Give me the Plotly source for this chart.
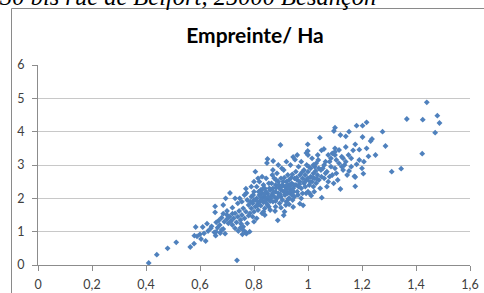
import plotly.graph_objects as go

# ---- data ----
x_ha = [
    0.41, 0.44, 0.48, 0.512, 0.564, 0.578, 0.579, 0.584, 0.589, 0.604, 0.621, 0.61, 0.626, 0.643, 0.653, 0.658,
    0.656, 0.656, 0.67, 0.673, 0.686, 0.686, 0.686, 0.693, 0.695, 0.711, 0.72, 0.73, 0.737, 0.742, 0.747, 0.752,
    0.757, 0.77, 0.772, 0.77, 0.772, 0.784,
    0.60, 0.615, 0.63, 0.64, 0.66, 0.665, 0.675, 0.68, 0.69, 0.70, 0.70, 0.705, 0.71, 0.715, 0.72, 0.725,
    0.73, 0.735, 0.74, 0.745, 0.75, 0.755, 0.76, 0.76, 0.765, 0.77, 0.775, 0.78, 0.78, 0.70, 0.72, 0.74,
    0.75, 0.76, 0.68, 0.66, 0.73, 0.775, 0.765, 0.755,
    0.785, 0.79, 0.79, 0.795, 0.8, 0.8, 0.8, 0.805, 0.805, 0.81, 0.81, 0.81, 0.815, 0.815, 0.82, 0.82,
    0.82, 0.825, 0.825, 0.83, 0.83, 0.83, 0.835, 0.835, 0.84, 0.84, 0.84, 0.845, 0.845, 0.85, 0.85, 0.85,
    0.848, 0.855, 0.855, 0.86, 0.86, 0.86, 0.79, 0.795, 0.80, 0.815, 0.825, 0.835, 0.845, 0.855, 0.787, 0.797,
    0.807, 0.817, 0.827, 0.837, 0.847, 0.857, 0.812, 0.832, 0.852, 0.80, 0.83, 0.84,
    0.865, 0.865, 0.87, 0.87, 0.871, 0.875, 0.875, 0.88, 0.88, 0.88, 0.885, 0.885, 0.888, 0.89, 0.89, 0.895,
    0.895, 0.898, 0.9, 0.9, 0.9, 0.905, 0.905, 0.91, 0.91, 0.91, 0.913, 0.915, 0.915, 0.92, 0.92, 0.92,
    0.925, 0.925, 0.93, 0.93, 0.93, 0.935, 0.935, 0.94, 0.94, 0.945, 0.945, 0.945, 0.95, 0.95, 0.952, 0.868,
    0.878, 0.883, 0.893, 0.903, 0.908, 0.918, 0.923, 0.928, 0.938, 0.943, 0.948, 0.862, 0.872, 0.882, 0.892, 0.897,
    0.902, 0.912, 0.917, 0.927, 0.932, 0.937, 0.942, 0.947, 0.87, 0.89, 0.92, 0.88, 0.9, 0.93,
    0.955, 0.955, 0.96, 0.96, 0.965, 0.965, 0.97, 0.97, 0.97, 0.975, 0.975, 0.98, 0.98, 0.982, 0.985, 0.985,
    0.99, 0.99, 0.994, 0.995, 0.995, 0.999, 0.999, 1.0, 1.0, 1.0, 1.005, 1.007, 1.01, 1.01, 1.012, 1.015,
    1.015, 1.02, 1.02, 1.025, 1.025, 1.03, 1.03, 1.036, 1.035, 1.04, 1.04, 1.044, 1.045, 1.05, 1.05, 1.051,
    0.958, 0.963, 0.968, 0.978, 0.988, 0.993, 1.003, 1.008, 1.018, 1.023, 1.028, 1.033, 1.038, 1.048, 0.96, 0.975,
    1.0, 1.02,
    1.055, 1.059, 1.06, 1.065, 1.07, 1.075, 1.075, 1.08, 1.085, 1.085, 1.09, 1.096, 1.1, 1.1, 1.1, 1.1,
    1.1, 1.105, 1.11, 1.115, 1.12, 1.12, 1.125, 1.13, 1.13, 1.135, 1.14, 1.14, 1.145, 1.152, 1.152, 1.15,
    1.06, 1.07, 1.08, 1.09, 1.095, 1.105, 1.115, 1.125, 1.14, 1.065,
    1.16, 1.167, 1.172, 1.175, 1.175, 1.175, 1.18, 1.18, 1.19, 1.202, 1.202, 1.205, 1.207, 1.217, 1.217, 1.224,
    1.232, 1.237, 1.25, 1.276, 1.287, 1.16, 1.19, 1.2,
    1.31, 1.345, 1.366, 1.425, 1.44, 1.479, 1.487, 1.471, 1.423,
]
y_empreinte = [
    0.06, 0.31, 0.50, 0.68, 0.54, 0.64, 0.88, 1.14, 0.86, 0.78, 0.72, 1.14, 1.24, 1.16, 0.98, 0.88,
    1.76, 1.58, 1.34, 1.20, 1.80, 1.54, 1.08, 0.94, 2.00, 2.16, 1.54, 2.00, 0.14, 1.02, 2.00, 1.24,
    0.92, 0.98, 2.16, 2.29, 0.94, 1.00,
    0.92, 0.95, 1.02, 1.10, 1.00, 1.12, 0.96, 1.05, 1.30, 1.38, 1.50, 1.25, 1.45, 1.32, 1.20, 1.40,
    1.55, 1.28, 1.45, 1.62, 1.35, 1.50, 1.70, 1.15, 1.40, 1.60, 1.25, 1.80, 1.48, 1.62, 1.72, 1.85,
    1.12, 1.05, 1.42, 1.28, 1.10, 1.95, 2.10, 1.90,
    1.55, 1.70, 2.05, 1.85, 1.60, 1.95, 2.20, 1.75, 2.80, 1.40, 2.00, 2.35, 1.85, 1.65, 2.10, 1.90,
    2.50, 1.78, 2.25, 1.55, 2.00, 2.15, 1.88, 2.40, 1.70, 2.05, 2.30, 1.95, 2.60, 1.80, 2.15, 3.18,
    3.06, 2.00, 2.45, 1.65, 2.25, 1.92, 2.35, 1.45, 1.30, 2.60, 2.05, 1.60, 2.20, 1.75, 1.90, 2.10,
    1.95, 2.20, 1.95, 2.12, 1.85, 2.30, 1.78, 2.28, 2.05, 2.50, 2.65, 1.50,
    2.10, 2.45, 1.90, 2.30, 3.12, 2.05, 2.60, 1.75, 2.20, 2.40, 2.00, 2.75, 1.34, 2.15, 2.50, 1.85,
    2.30, 3.60, 2.05, 2.25, 2.60, 2.40, 1.95, 1.49, 2.20, 2.85, 1.60, 2.35, 2.10, 2.50, 1.90, 2.28,
    2.70, 2.15, 2.40, 2.00, 2.55, 2.25, 3.00, 2.10, 2.45, 1.74, 3.24, 2.30, 2.60, 2.05, 3.16, 2.70,
    1.62, 2.32, 2.08, 2.90, 2.50, 1.80, 2.40, 2.32, 2.62, 1.95, 2.40, 2.00, 2.18, 2.55, 2.40, 2.12,
    2.35, 2.62, 2.22, 1.98, 2.18, 2.40, 2.72, 2.20, 2.85, 3.00, 3.10, 1.92, 1.72, 1.82,
    2.40, 2.80, 2.20, 2.55, 2.35, 2.95, 1.84, 2.50, 2.70, 2.30, 3.10, 2.60, 2.15, 1.79, 2.45, 2.85,
    2.70, 2.35, 3.36, 2.55, 3.00, 3.62, 3.42, 2.20, 2.60, 2.80, 2.40, 2.14, 2.90, 2.65, 2.08, 2.50,
    3.20, 2.75, 2.35, 2.95, 2.60, 2.45, 3.05, 3.30, 2.70, 2.55, 2.90, 3.82, 2.30, 3.44, 2.65, 2.02,
    2.62, 2.10, 2.42, 2.78, 2.50, 2.15, 2.95, 2.50, 2.62, 2.20, 2.82, 2.58, 3.15, 2.85, 3.30, 2.00,
    3.30, 3.00,
    2.90, 3.48, 2.60, 3.10, 2.80, 3.30, 2.50, 3.10, 2.95, 3.20, 2.70, 4.02, 4.12, 3.50, 3.40, 3.30,
    2.90, 3.15, 2.55, 3.05, 3.90, 2.28, 3.25, 3.20, 2.85, 3.00, 3.86, 3.54, 2.70, 4.00, 2.82, 3.30,
    3.00, 2.35, 2.65, 3.35, 2.45, 2.75, 3.45, 2.95, 3.10, 2.75,
    3.20, 3.44, 2.66, 3.62, 2.64, 2.36, 4.18, 3.02, 3.46, 4.18, 3.84, 2.74, 3.10, 4.28, 3.50, 3.26,
    3.72, 3.78, 3.30, 4.00, 3.57, 2.95, 3.15, 2.90,
    2.80, 2.89, 4.38, 4.36, 4.88, 4.48, 4.26, 3.97, 3.34,
]

x_tick_vals = [0, 0.2, 0.4, 0.6, 0.8, 1.0, 1.2, 1.4, 1.6]
x_tick_text = ["0", "0,2", "0,4", "0,6", "0,8", "1", "1,2", "1,4", "1,6"]
y_tick_vals = [0, 1, 2, 3, 4, 5, 6]

chart_title = "Empreinte/ Ha"
header_text = "30 bis rue de Belfort, 25000 Besançon"

# ---- figure ----
W, H = 484, 293
ML, MR, MT, MB = 38, 14, 65, 28
PW, PH = W - ML - MR, H - MT - MB


def px_to_paper_x(px):
    return (px - ML) / PW


def py_to_paper_y(py):
    return (H - MB - py) / PH


fig = go.Figure()
fig.add_trace(go.Scatter(
    x=x_ha, y=y_empreinte, mode="markers",
    marker=dict(symbol="diamond", size=4.5, color="#4F81BD", line=dict(width=0)),
    hoverinfo="skip", showlegend=False,
))

tick_font = dict(family="Lato, 'Open Sans', sans-serif", size=12.5, color="#404040")

fig.update_layout(
    width=W, height=H,
    margin=dict(l=ML, r=MR, t=MT, b=MB, pad=0),
    paper_bgcolor="white", plot_bgcolor="white",
    separators=", ",
    showlegend=False,
    title=dict(
        text="<b>" + chart_title + "</b>",
        x=255 / W, xanchor="center",
        y=1 - 36 / H, yanchor="middle", xref="container", yref="container",
        font=dict(family="Lato, 'Open Sans', sans-serif", size=21, color="#000000"),
    ),
    xaxis=dict(
        range=[0, 1.6], tickvals=x_tick_vals, ticktext=x_tick_text,
        showgrid=False, zeroline=False, showline=True, linecolor="#8C8C8C", linewidth=1,
        ticks="outside", ticklen=5, tickcolor="#8C8C8C", tickfont=tick_font,
        ticklabelstandoff=3,
        fixedrange=True, automargin=False,
    ),
    yaxis=dict(
        range=[0, 6], tickvals=y_tick_vals,
        showgrid=True, gridcolor="#C8C8C8", gridwidth=1,
        zeroline=False, showline=True, linecolor="#8C8C8C", linewidth=1,
        ticks="outside", ticklen=5, tickcolor="#8C8C8C", tickfont=tick_font,
        ticklabelstandoff=5,
        fixedrange=True, automargin=False,
    ),
    shapes=[dict(
        type="rect", xref="paper", yref="paper",
        x0=px_to_paper_x(11.5), x1=px_to_paper_x(495),
        y0=py_to_paper_y(300), y1=py_to_paper_y(8.5),
        line=dict(color="#8A8A8A", width=1), fillcolor="rgba(0,0,0,0)", layer="below",
    )],
    annotations=[dict(
        text="<i>" + header_text + "</i>", xref="paper", yref="paper",
        x=px_to_paper_x(-3), xanchor="left",
        y=py_to_paper_y(12), yanchor="bottom",
        showarrow=False,
        font=dict(family="'Liberation Serif', 'Times New Roman', serif", size=24.5, color="#000000"),
    )],
)

fig.write_html(
    "out.html",
    config={"displayModeBar": False, "staticPlot": True},
    post_script="document.body.style.margin='0';document.body.style.padding='0';"
                "document.documentElement.style.overflow='hidden';",
)
